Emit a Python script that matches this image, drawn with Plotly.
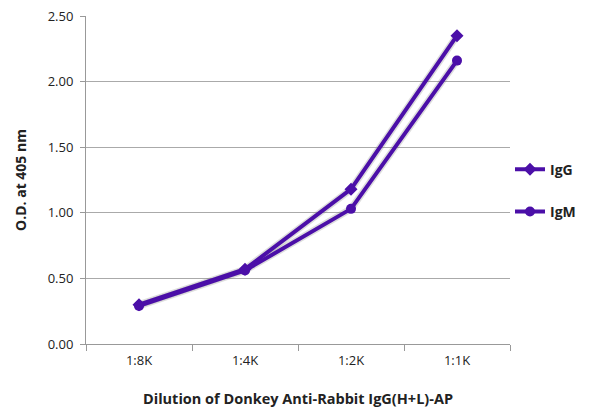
import plotly.graph_objects as go

# dilutions and O.D. readings
dilutions = ["1:8K", "1:4K", "1:2K", "1:1K"]
igg = [0.30, 0.57, 1.18, 2.35]
igm = [0.29, 0.56, 1.03, 2.16]
y_ticks = [0, 0.5, 1.0, 1.5, 2.0, 2.5]
y_labels = ["0.00", "0.50", "1.00", "1.50", "2.00", "2.50"]

purple = "#4b0fa8"
font = "Open Sans"

fig = go.Figure()

# soft shadow under the lines
for vals in (igg, igm):
    fig.add_trace(go.Scatter(x=dilutions, y=vals, mode="lines",
                             line=dict(color="rgba(120,120,120,0.25)", width=7),
                             hoverinfo="skip", showlegend=False))

fig.add_trace(go.Scatter(x=dilutions, y=igg, mode="lines+markers", name="IgG",
                         legendgroup="g", line=dict(color=purple, width=4),
                         marker=dict(symbol="diamond", size=10, color=purple)))
fig.add_trace(go.Scatter(x=dilutions, y=igm, mode="lines+markers", name="IgM",
                         legendgroup="m", line=dict(color=purple, width=4),
                         marker=dict(symbol="circle", size=10, color=purple)))

# page is drawn with an 8px body offset, so margins are shifted by that
fig.update_layout(
    width=600, height=416,
    margin=dict(l=78, r=98, t=8, b=80),
    paper_bgcolor="white", plot_bgcolor="white",
    font=dict(family=font, size=12, color="#222"),
    legend=dict(x=1.0, y=0.58, xanchor="left", yanchor="top",
                font=dict(size=14, family=font, weight="bold"),
                tracegroupgap=21, itemwidth=30),
    xaxis=dict(
        title=dict(text="<b>Dilution of Donkey Anti-Rabbit IgG(H+L)-AP</b>",
                   font=dict(size=14.5), standoff=26),
        range=[-0.5, 3.5], automargin=False,
        tickson="boundaries", ticks="outside", ticklen=6, tickcolor="#999",
        ticklabelstandoff=4,
        showline=True, linecolor="#999", linewidth=1,
        showgrid=False, tickfont=dict(size=13),
    ),
    yaxis=dict(
        title=dict(text="<b>O.D. at 405 nm</b>", font=dict(size=14), standoff=17),
        range=[0, 2.5], tickvals=y_ticks, ticktext=y_labels, automargin=False,
        ticks="outside", ticklen=5, tickcolor="#999",
        ticklabelstandoff=4, ticklabeloverflow="allow",
        showline=True, linecolor="#999", linewidth=1,
        showgrid=True, gridcolor="#aaa", gridwidth=1,
        tickfont=dict(size=13), zeroline=False,
    ),
)

fig.write_html("out.html")
